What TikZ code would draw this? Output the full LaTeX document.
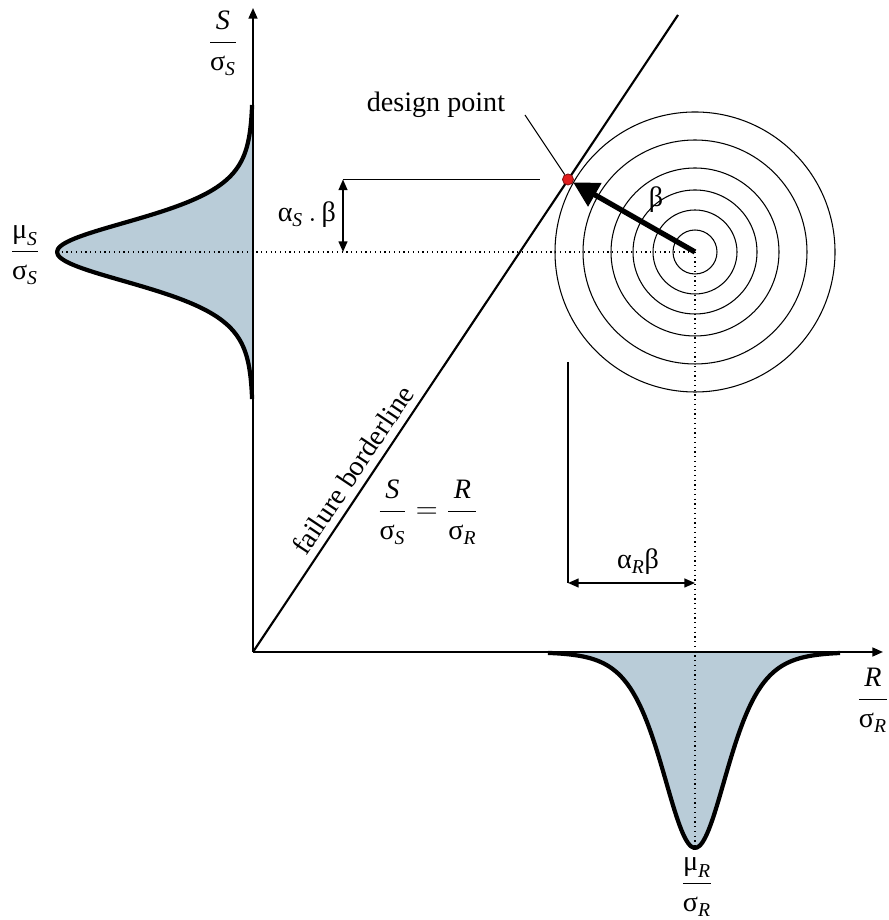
\documentclass[tikz,border=0pt]{standalone}
\usepackage{amsmath}
\usepackage{fontspec}
\setmainfont{Liberation Serif}
\usetikzlibrary{arrows.meta,calc}
\definecolor{colDist}{RGB}{185,204,216}
\definecolor{colDP}{RGB}{225,30,30}
\newcommand{\gs}{\text{σ}}
\newcommand{\gm}{\text{μ}}
\newcommand{\ga}{\text{α}}
\newcommand{\gb}{\text{β}}
\newcommand{\Sv}{\textit{S}}
\newcommand{\Rv}{\textit{R}}
\tikzset{
  axis/.style   = {-{Triangle[length=6pt,width=5pt]}, line width=1.1pt},
  border/.style = {line width=1.2pt},
  dist/.style   = {line width=2.4pt, line join=round},
  ring/.style   = {line width=0.6pt},
  guide/.style  = {dotted, line width=0.7pt},
  leader/.style = {line width=0.6pt},
  ext/.style    = {line width=0.9pt},
  dim/.style    = {{Triangle[length=6pt,width=5pt]}-{Triangle[length=6pt,width=5pt]},
                   line width=0.9pt},
  barr/.style   = {-{Triangle[length=0.5cm,width=0.52cm]}, line width=3pt},
  lbl/.style    = {font=\fontsize{16}{19}\selectfont, inner sep=1pt},
  dpt/.style    = {circle, fill=colDP, draw=colDP!60!black, line width=0.5pt,
                   minimum size=0.22cm, inner sep=0pt},
}

\begin{document}
\begin{tikzpicture}
\useasboundingbox (-5.06,-5.36) rectangle (12.7,13.04);

%% key points
\coordinate (O)    at (0,0);
\coordinate (ytop) at (0,12.88);
\coordinate (xend) at (12.6,0);
\coordinate (ctr)  at (8.84,8);
\coordinate (bend) at (8.5,12.74);
\coordinate (stip) at (-3.92,8);
\coordinate (rtip) at (8.84,-3.92);
\coordinate (lead) at (5.44,10.74);

%% distributions (fill)
\fill[colDist] plot[domain=-2.94:2.94, samples=101, smooth]
      ({-3.92/(cosh(\x/0.87))^2}, {8+\x}) -- cycle;
\fill[colDist] plot[domain=-2.94:2.9, samples=101, smooth]
      ({8.84+\x}, {-3.92/(cosh(\x/0.87))^2}) -- cycle;

%% guides
\draw[guide] (stip) -- (ctr);
\draw[guide] (ctr) -- (rtip);

%% axes
\draw[axis] (O) -- (ytop);
\draw[axis] (O) -- (xend);

%% distributions (outline)
\draw[dist] plot[domain=-2.94:2.94, samples=101, smooth]
      ({-3.92/(cosh(\x/0.87))^2}, {8+\x});
\draw[dist] plot[domain=-2.94:2.9, samples=101, smooth]
      ({8.84+\x}, {-3.92/(cosh(\x/0.87))^2});

%% iso-probability circles
\foreach \r in {0.44,0.84,1.24,1.68,2.24,2.8}
  \draw[ring] (ctr) circle (\r);

%% failure borderline
\draw[border] (O) -- (bend)
  node[lbl, pos=0.27, sloped, above, inner sep=4pt] (fb) {failure borderline};

%% design point
\node[dpt] (dp) at (6.3,9.45) {};
\draw[leader] (lead) -- (dp);
\draw[barr] (ctr) -- (dp);

%% alpha_S beta
\coordinate (asTop) at (1.8,9.45);
\coordinate (asBot) at (1.8,8);
\coordinate (asEnd) at (5.74,9.45);
\draw[ext] (asTop) -- (asEnd);
\draw[dim] (asTop) -- (asBot);

%% alpha_R beta
\coordinate (arTop) at (6.3,5.8);
\coordinate (arBot) at (6.3,1.38);
\coordinate (arEnd) at (8.84,1.38);
\draw[ext] (arTop) -- (arBot);
\draw[dim] (arBot) -- (arEnd);

%% labels
\node[lbl] (ylab) at (-0.6,12.18) {$\dfrac{\Sv}{\gs_{\Sv}}$};
\node[lbl] (xlab) at (12.4,-0.96) {$\dfrac{\Rv}{\gs_{\Rv}}$};
\node[lbl] (muS)  at (-4.56,7.94) {$\dfrac{\gm_{\Sv}}{\gs_{\Sv}}$};
\node[lbl] (muR)  at (8.88,-4.7)  {$\dfrac{\gm_{\Rv}}{\gs_{\Rv}}$};
\node[lbl] (dpl)  at (3.66,10.94) {design point};
\node[lbl, left] (asl) at (1.7,8.74) {$\ga_{\Sv}\,.\,\gb$};
\node[lbl] (arl)  at (7.7,1.8)    {$\ga_{\Rv}\gb$};
\node[lbl] (bl)   at (8.06,9.04)  {$\gb$};
\node[lbl] (eq)   at (3.5,2.8)
  {$\dfrac{\Sv}{\gs_{\Sv}} = \dfrac{\Rv}{\gs_{\Rv}}$};

\end{tikzpicture}
\end{document}
